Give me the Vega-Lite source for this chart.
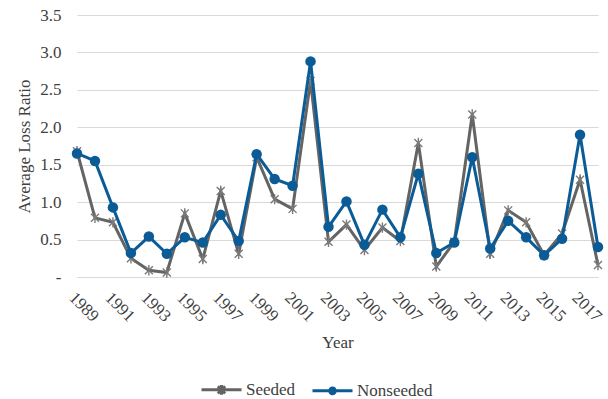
{
  "$schema": "https://vega.github.io/schema/vega-lite/v6.json",
  "autosize": "none",
  "width": 521,
  "height": 262,
  "padding": {"left": 77, "top": 15, "right": 10, "bottom": 122},
  "background": "white",
  "config": {
    "view": {"stroke": null},
    "font": "Liberation Serif",
    "axis": {"labelFont": "Liberation Serif", "titleFont": "Liberation Serif", "labelColor": "#404040", "titleColor": "#404040", "titleFontWeight": "normal"},
    "legend": {"labelFont": "Liberation Serif"}
  },
  "data": {
    "values": [
      {"year": 1989, "series": "Seeded", "value": 1.68}, {"year": 1989, "series": "Nonseeded", "value": 1.65},
      {"year": 1990, "series": "Seeded", "value": 0.79}, {"year": 1990, "series": "Nonseeded", "value": 1.55},
      {"year": 1991, "series": "Seeded", "value": 0.73}, {"year": 1991, "series": "Nonseeded", "value": 0.93},
      {"year": 1992, "series": "Seeded", "value": 0.25}, {"year": 1992, "series": "Nonseeded", "value": 0.32},
      {"year": 1993, "series": "Seeded", "value": 0.09}, {"year": 1993, "series": "Nonseeded", "value": 0.54},
      {"year": 1994, "series": "Seeded", "value": 0.06}, {"year": 1994, "series": "Nonseeded", "value": 0.31},
      {"year": 1995, "series": "Seeded", "value": 0.85}, {"year": 1995, "series": "Nonseeded", "value": 0.53},
      {"year": 1996, "series": "Seeded", "value": 0.24}, {"year": 1996, "series": "Nonseeded", "value": 0.46},
      {"year": 1997, "series": "Seeded", "value": 1.15}, {"year": 1997, "series": "Nonseeded", "value": 0.83},
      {"year": 1998, "series": "Seeded", "value": 0.31}, {"year": 1998, "series": "Nonseeded", "value": 0.48},
      {"year": 1999, "series": "Seeded", "value": 1.6}, {"year": 1999, "series": "Nonseeded", "value": 1.64},
      {"year": 2000, "series": "Seeded", "value": 1.04}, {"year": 2000, "series": "Nonseeded", "value": 1.31},
      {"year": 2001, "series": "Seeded", "value": 0.91}, {"year": 2001, "series": "Nonseeded", "value": 1.22},
      {"year": 2002, "series": "Seeded", "value": 2.62}, {"year": 2002, "series": "Nonseeded", "value": 2.88},
      {"year": 2003, "series": "Seeded", "value": 0.47}, {"year": 2003, "series": "Nonseeded", "value": 0.67},
      {"year": 2004, "series": "Seeded", "value": 0.7}, {"year": 2004, "series": "Nonseeded", "value": 1.01},
      {"year": 2005, "series": "Seeded", "value": 0.36}, {"year": 2005, "series": "Nonseeded", "value": 0.43},
      {"year": 2006, "series": "Seeded", "value": 0.66}, {"year": 2006, "series": "Nonseeded", "value": 0.9},
      {"year": 2007, "series": "Seeded", "value": 0.48}, {"year": 2007, "series": "Nonseeded", "value": 0.53},
      {"year": 2008, "series": "Seeded", "value": 1.79}, {"year": 2008, "series": "Nonseeded", "value": 1.38},
      {"year": 2009, "series": "Seeded", "value": 0.14}, {"year": 2009, "series": "Nonseeded", "value": 0.32},
      {"year": 2010, "series": "Seeded", "value": 0.47}, {"year": 2010, "series": "Nonseeded", "value": 0.46},
      {"year": 2011, "series": "Seeded", "value": 2.17}, {"year": 2011, "series": "Nonseeded", "value": 1.6},
      {"year": 2012, "series": "Seeded", "value": 0.31}, {"year": 2012, "series": "Nonseeded", "value": 0.38},
      {"year": 2013, "series": "Seeded", "value": 0.89}, {"year": 2013, "series": "Nonseeded", "value": 0.75},
      {"year": 2014, "series": "Seeded", "value": 0.73}, {"year": 2014, "series": "Nonseeded", "value": 0.53},
      {"year": 2015, "series": "Seeded", "value": 0.29}, {"year": 2015, "series": "Nonseeded", "value": 0.29},
      {"year": 2016, "series": "Seeded", "value": 0.58}, {"year": 2016, "series": "Nonseeded", "value": 0.51},
      {"year": 2017, "series": "Seeded", "value": 1.3}, {"year": 2017, "series": "Nonseeded", "value": 1.9},
      {"year": 2018, "series": "Seeded", "value": 0.16}, {"year": 2018, "series": "Nonseeded", "value": 0.4}
    ]
  },
  "encoding": {
    "x": {
      "field": "year", "type": "quantitative",
      "scale": {"domain": [1989, 2018], "nice": false, "zero": false},
      "axis": {
        "values": [1989, 1991, 1993, 1995, 1997, 1999, 2001, 2003, 2005, 2007, 2009, 2011, 2013, 2015, 2017],
        "format": "d", "labelAngle": 45, "labelAlign": "left", "labelBaseline": "top",
        "labelFont": "Liberation Serif", "labelFontSize": 17, "labelPadding": 12, "ticks": false, "grid": false,
        "domain": true, "domainColor": "#d9d9d9", "domainWidth": 1,
        "title": "Year", "titleFont": "Liberation Serif", "titleFontSize": 17, "titlePadding": 10, "labelOverlap": false
      }
    },
    "y": {
      "field": "value", "type": "quantitative",
      "scale": {"domain": [0, 3.5], "nice": false},
      "axis": {
        "values": [0, 0.5, 1, 1.5, 2, 2.5, 3, 3.5],
        "labelExpr": "datum.value === 0 ? '-\u00a0\u00a0' : format(datum.value, '.1f')",
        "labelFont": "Liberation Serif", "labelFontSize": 17, "labelPadding": 16, "ticks": false, "domain": false,
        "grid": true, "gridColor": "#d9d9d9", "gridWidth": 1.2,
        "title": "Average Loss Ratio", "titleFont": "Liberation Serif", "titleFontSize": 17, "titlePadding": 6
      }
    },
    "color": {
      "field": "series", "type": "nominal",
      "scale": {"domain": ["Seeded", "Nonseeded"], "range": ["#646464", "#0b5c96"]},
      "legend": null
    }
  },
  "layer": [
    {
      "transform": [{"filter": "datum.series === 'Seeded'"}],
      "mark": {"type": "line", "strokeWidth": 3},
      "encoding": {
        "color": {
          "field": "series", "type": "nominal",
          "scale": {"domain": ["Seeded", "Nonseeded"], "range": ["#646464", "#0b5c96"]},
          "legend": {
            "title": null, "orient": "none", "direction": "horizontal",
            "legendX": 123, "legendY": 353, "padding": 0,
            "labelFont": "Liberation Serif", "labelFontSize": 17, "labelColor": "#404040", "labelOffset": 3,
            "columnPadding": 10, "symbolSize": 1600,
            "encode": {
              "symbols": {
                "update": {
                  "shape": {"signal": "datum.value === 'Seeded' ? 'M-1,0H1M-0.18,-0.18L0.18,0.18M-0.18,0.18L0.18,-0.18M0,-0.24V0.24' : 'M-1,0H1M0.14,0A0.14,0.14 0 1 1 -0.14,0A0.14,0.14 0 1 1 0.14,0Z'"},
                  "fill": {"signal": "datum.value === 'Seeded' ? 'transparent' : '#0b5c96'"},
                  "stroke": {"signal": "datum.value === 'Seeded' ? '#646464' : '#0b5c96'"},
                  "strokeWidth": {"value": 3},
                  "opacity": {"value": 1},
                  "fillOpacity": {"value": 1},
                  "strokeOpacity": {"value": 1}
                }
              }
            }
          }
        }
      }
    },
    {
      "transform": [{"filter": "datum.series === 'Seeded'"}],
      "mark": {"type": "point", "shape": "M-1,-1L1,1M-1,1L1,-1M0,-1.3V1.3", "size": 64, "filled": false, "strokeWidth": 1.4, "opacity": 1, "stroke": "#7a7a7a"}
    },
    {
      "transform": [{"filter": "datum.series === 'Nonseeded'"}],
      "mark": {"type": "line", "strokeWidth": 3}
    },
    {
      "transform": [{"filter": "datum.series === 'Nonseeded'"}],
      "mark": {"type": "circle", "size": 110, "opacity": 1}
    }
  ]
}
